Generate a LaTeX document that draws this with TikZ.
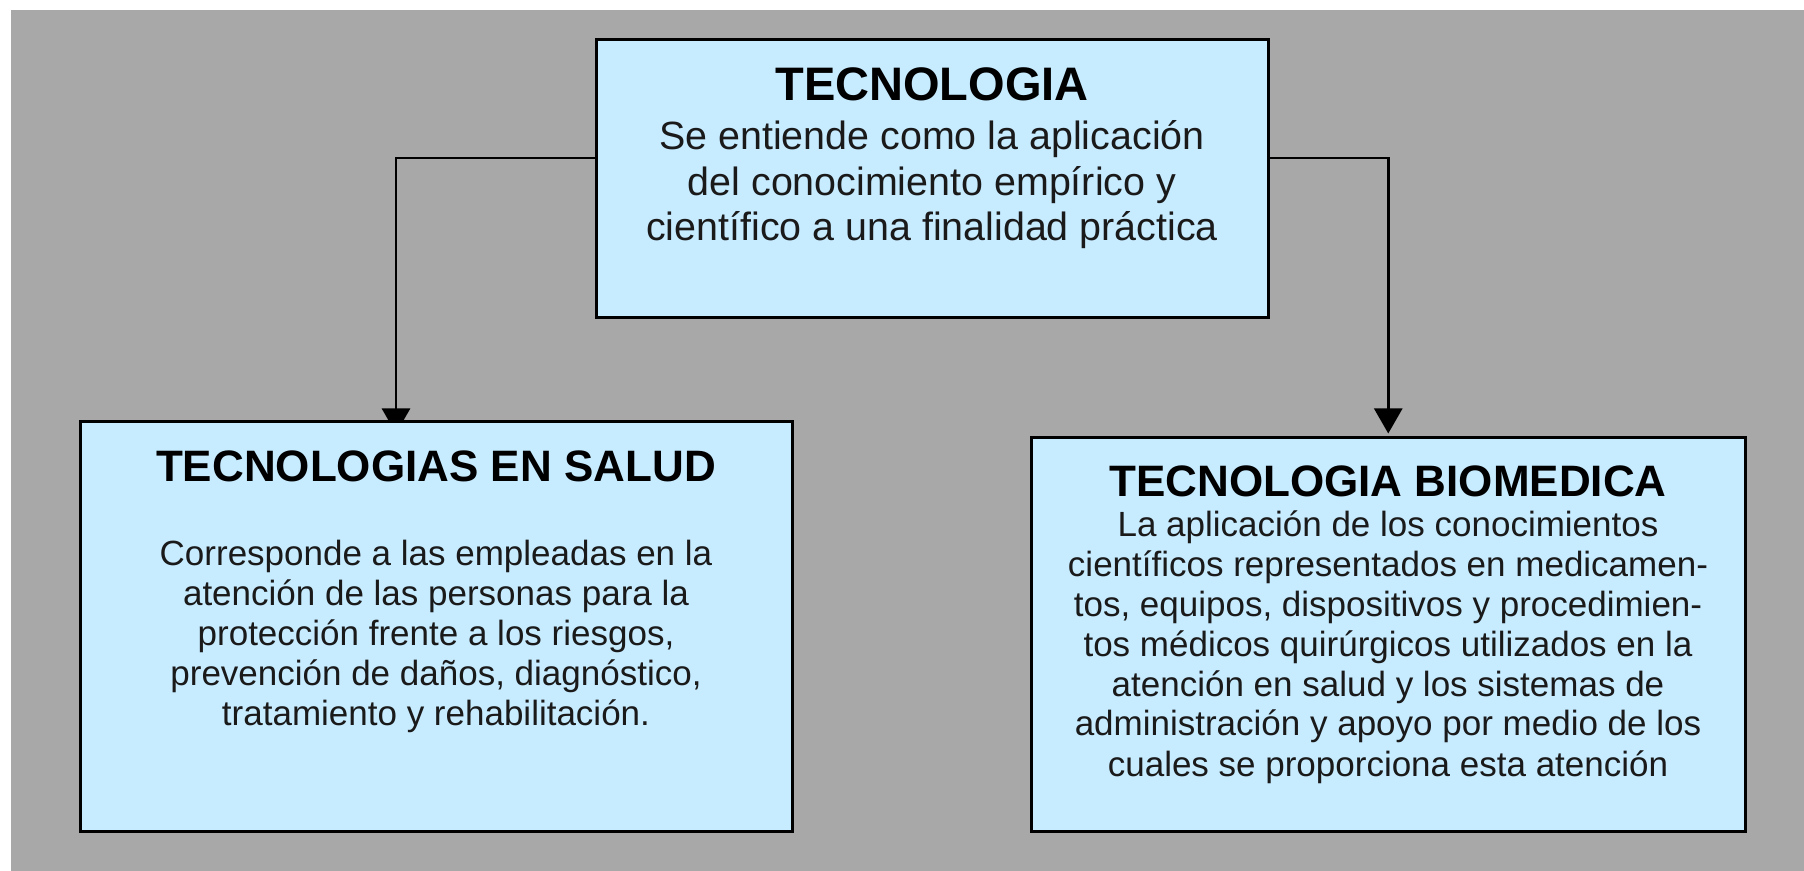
\documentclass[tikz,border=0pt]{standalone}
\usepackage{fontspec}
\setmainfont{Liberation Sans}
\usetikzlibrary{arrows.meta,backgrounds}
\definecolor{bggray}{RGB}{168,168,168}
\definecolor{boxblue}{RGB}{199,235,255}
\definecolor{bodytext}{RGB}{26,26,26}
\tikzset{
  infobox/.style={draw=black, line width=1.5pt, fill=boxblue, rectangle, inner sep=0pt, outer sep=0pt},
  bigtitle/.style={anchor=base, inner sep=0pt, font=\fontsize{23.5pt}{26pt}\selectfont\bfseries, text=black},
  subtitle/.style={anchor=base, inner sep=0pt, font=\fontsize{22pt}{25pt}\selectfont\bfseries, text=black},
  bodytop/.style={anchor=base, inner sep=0pt, font=\fontsize{19.7pt}{22.7pt}\selectfont, text=bodytext},
  bodysub/.style={anchor=base, inner sep=0pt, font=\fontsize{17.5pt}{20pt}\selectfont, text=bodytext},
  connector/.style={draw=black, line width=1.3pt, -{Triangle[width=14pt,length=12.5pt]}}
}
\begin{document}
\begin{tikzpicture}[x=0.5pt,y=-0.5pt]
\useasboundingbox (0,0) rectangle (1804,871);
\begin{scope}[on background layer]
\fill[white] (0,0) rectangle (1804,871);
\fill[bggray] (11,10) rectangle (1804,871);
\end{scope}

\node[infobox, minimum width=336pt, minimum height=139pt] (top) at (932,179) {};
\node[infobox, minimum width=356pt, minimum height=204.75pt] (lbox) at (436,626.25) {};
\node[infobox, minimum width=356.75pt, minimum height=196.75pt] (rbox) at (1388.25,634.25) {};

\begin{scope}[on background layer]
\draw[connector, shorten >=-6pt] ([yshift=10.5pt]top.west) -| ([xshift=-20pt]lbox.north);
\draw[connector, shorten >=2pt] ([yshift=10.5pt]top.east) -| (rbox.north);
\end{scope}

\node[bigtitle] (toptitle) at (932,101) {TECNOLOGIA};
\node[bodytop] (topbody) at (932,150) {\parbox[t]{600pt}{\centering Se entiende como la aplicación\\del conocimiento empírico y\\científico a una finalidad práctica}};

\node[subtitle] (ltitle) at (436,481) {TECNOLOGIAS EN SALUD};
\node[bodysub] (lbody) at (436,565) {\parbox[t]{600pt}{\centering Corresponde a las empleadas en la\\atención de las personas para la\\protección frente a los riesgos,\\prevención de daños, diagnóstico,\\tratamiento y rehabilitación.}};

\node[subtitle] (rtitle) at (1388,496) {TECNOLOGIA BIOMEDICA};
\node[bodysub] (rbody) at (1388,536) {\parbox[t]{600pt}{\centering La aplicación de los conocimientos\\científicos representados en medicamen-\\tos, equipos, dispositivos y procedimien-\\tos médicos quirúrgicos utilizados en la\\atención en salud y los sistemas de\\administración y apoyo por medio de los\\cuales se proporciona esta atención}};
\end{tikzpicture}
\end{document}
